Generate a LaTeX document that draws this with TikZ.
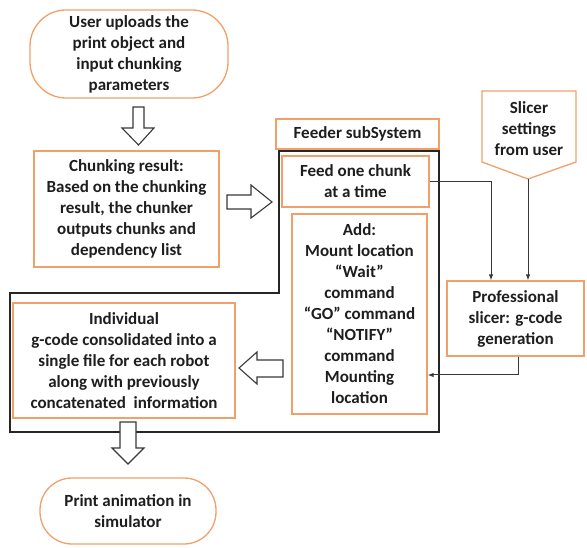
\documentclass[tikz,border=0pt]{standalone}
\usepackage{fontspec}
\setmainfont{Carlito}
\usetikzlibrary{arrows.meta}
\definecolor{orng}{HTML}{F2A06A}
\definecolor{txt}{HTML}{1E1E1E}
\definecolor{conn}{HTML}{383838}
\begin{document}
\begin{tikzpicture}[x=1pt,y=-1pt,
  every node/.style={font=\fontsize{17}{21}\selectfont\bfseries, text=txt, align=center, inner sep=0pt},
  obox/.style={draw=orng, line width=1.3pt, fill=white},
  term/.style={obox, rounded corners=36pt},
  blockarrow/.style={draw=conn, line width=1.1pt, fill=white, line join=miter},
  connector/.style={draw=conn, line width=1pt, -{Latex[length=6pt,width=4.5pt]}},
  outline/.style={draw=black!85, line width=1.1pt}
]
\useasboundingbox (0,0) rectangle (587,548);

% big subsystem outline
\draw[outline] (279,151) -- (439,151) -- (439,432) -- (10,432) -- (10,293) -- (279,293) -- cycle;

% nodes
\node[term, minimum width=198pt, minimum height=88pt] (upload) at (129,54)
  {User uploads the\\print object and\\input chunking\\parameters};
\node[obox, minimum width=185pt, minimum height=116pt] (chunk) at (126.5,209)
  {Chunking result:\\Based on the chunking\\result, the chunker\\outputs chunks and\\dependency list};
\node[obox, minimum width=163pt, minimum height=30pt] (feeder) at (357.5,134) {Feeder subSystem};
\node[obox, minimum width=147pt, minimum height=51pt] (feed) at (355.5,181.5) {Feed one chunk\\at a time};
\node[obox, minimum width=135pt, minimum height=200pt] (add) at (359.5,314)
  {Add:\\Mount location\\“Wait”\\command\\“GO” command\\“NOTIFY”\\command\\Mounting\\location};
\node[obox, minimum width=137pt, minimum height=75pt] (prof) at (515.5,318.5)
  {Professional\\slicer: g-code\\generation};
\node[obox, minimum width=222pt, minimum height=115pt] (indiv) at (124,360.5)
  {Individual\\g-code consolidated into a\\single file for each robot\\along with previously\\concatenated\ \ information};
\node[term, minimum width=176pt, minimum height=66pt, rounded corners=32pt] (anim) at (128,511)
  {Print animation in\\simulator};

% slicer settings pentagon
\draw[obox] (482,91) -- (576,91) -- (576,162) -- (528,179) -- (482,162) -- cycle;
\coordinate (settip) at (528,179);
\node (settings) at (529,129) {Slicer\\settings\\from user};

% block arrows
\draw[blockarrow] (133,107) -- (144,107) -- (144,128) -- (154,128) -- (138.5,145) -- (122,128) -- (133,128) -- cycle;
\draw[blockarrow] (227,195) -- (251,195) -- (251,185) -- (272,202) -- (251,218) -- (251,209) -- (227,209) -- cycle;
\draw[blockarrow] (283,360) -- (257,360) -- (257,352) -- (239,368) -- (257,384) -- (257,377) -- (283,377) -- cycle;
\draw[blockarrow] (120,422) -- (136,422) -- (136,448) -- (144,448) -- (128,464) -- (112,448) -- (120,448) -- cycle;

% connectors
\draw[connector] (feed.east) -| ([xshift=-24.5pt]prof.north);
\draw[connector] (settip) -- (settip |- prof.north);
\draw[connector] ([xshift=2.5pt]prof.south) |- ([yshift=-61pt]add.east);
\end{tikzpicture}
\end{document}
